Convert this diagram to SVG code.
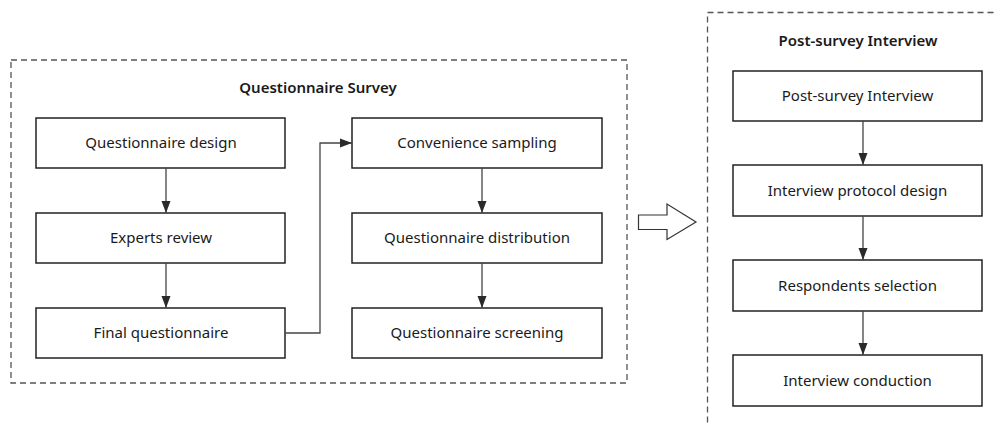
<svg xmlns="http://www.w3.org/2000/svg" width="997" height="425" viewBox="0 0 997 425">
<defs>
<marker id="ah" markerWidth="12" markerHeight="10" viewBox="0 0 12 10" refX="12" refY="5" orient="auto" markerUnits="userSpaceOnUse">
<path d="M0,0.5 L12,5 L0,9.5 Z" fill="#2a2a2a"/>
</marker>
<style>
.frame{fill:none;stroke:#555;stroke-width:1.3;stroke-dasharray:6 4}
.box{fill:#fff;stroke:#222;stroke-width:1.5}
.lbl{font-family:"Noto Sans","Open Sans",sans-serif;font-size:15px;fill:#1a1a1a;text-anchor:middle}
.ttl{font-family:"Noto Sans","Open Sans",sans-serif;font-size:15px;font-weight:600;fill:#1a1a1a;text-anchor:middle}
.con{fill:none;stroke:#444;stroke-width:1.3}
</style>
</defs>
<rect width="997" height="425" fill="#fff"/>
<g id="questionnaire-survey">
<rect class="frame" x="11" y="60" width="616" height="323"/>
<text class="ttl" x="318" y="93">Questionnaire Survey</text>
</g>
<g id="post-survey-interview-frame">
<rect class="frame" x="707.5" y="12.5" width="320" height="430"/>
<text class="ttl" x="858" y="46">Post-survey Interview</text>
</g>
<g id="n-questionnaire-design"><rect class="box" x="36" y="118" width="249" height="50"/><text class="lbl" x="161" y="148">Questionnaire design</text></g>
<g id="n-experts-review"><rect class="box" x="36" y="213" width="249" height="50"/><text class="lbl" x="161" y="243">Experts review</text></g>
<g id="n-final-questionnaire"><rect class="box" x="36" y="308" width="249" height="50"/><text class="lbl" x="161" y="338">Final questionnaire</text></g>
<g id="n-convenience-sampling"><rect class="box" x="352" y="118" width="250" height="50"/><text class="lbl" x="477" y="148">Convenience sampling</text></g>
<g id="n-questionnaire-distribution"><rect class="box" x="352" y="213" width="250" height="50"/><text class="lbl" x="477" y="243">Questionnaire distribution</text></g>
<g id="n-questionnaire-screening"><rect class="box" x="352" y="308" width="250" height="50"/><text class="lbl" x="477" y="338">Questionnaire screening</text></g>
<g id="n-post-survey-interview"><rect class="box" x="733" y="71" width="249" height="50"/><text class="lbl" x="857.5" y="101">Post-survey Interview</text></g>
<g id="n-interview-protocol-design"><rect class="box" x="733" y="165" width="249" height="51"/><text class="lbl" x="857.5" y="195.5">Interview protocol design</text></g>
<g id="n-respondents-selection"><rect class="box" x="733" y="260" width="249" height="51"/><text class="lbl" x="857.5" y="290.5">Respondents selection</text></g>
<g id="n-interview-conduction"><rect class="box" x="733" y="355" width="249" height="51"/><text class="lbl" x="857.5" y="385.5">Interview conduction</text></g>
<g id="connectors">
<path class="con" d="M166,168 V213" marker-end="url(#ah)"/>
<path class="con" d="M166,263 V308" marker-end="url(#ah)"/>
<path class="con" d="M285,333 H320 V143 H352" marker-end="url(#ah)"/>
<path class="con" d="M482,168 V213" marker-end="url(#ah)"/>
<path class="con" d="M482,263 V308" marker-end="url(#ah)"/>
<path class="con" d="M863,121 V165" marker-end="url(#ah)"/>
<path class="con" d="M863,216 V260" marker-end="url(#ah)"/>
<path class="con" d="M863,311 V355" marker-end="url(#ah)"/>
<path d="M638.5,215 H667 V204 L696,222 L667,239.5 V229.5 H638.5 Z" fill="#fff" stroke="#333" stroke-width="1.2"/>
</g>
</svg>
